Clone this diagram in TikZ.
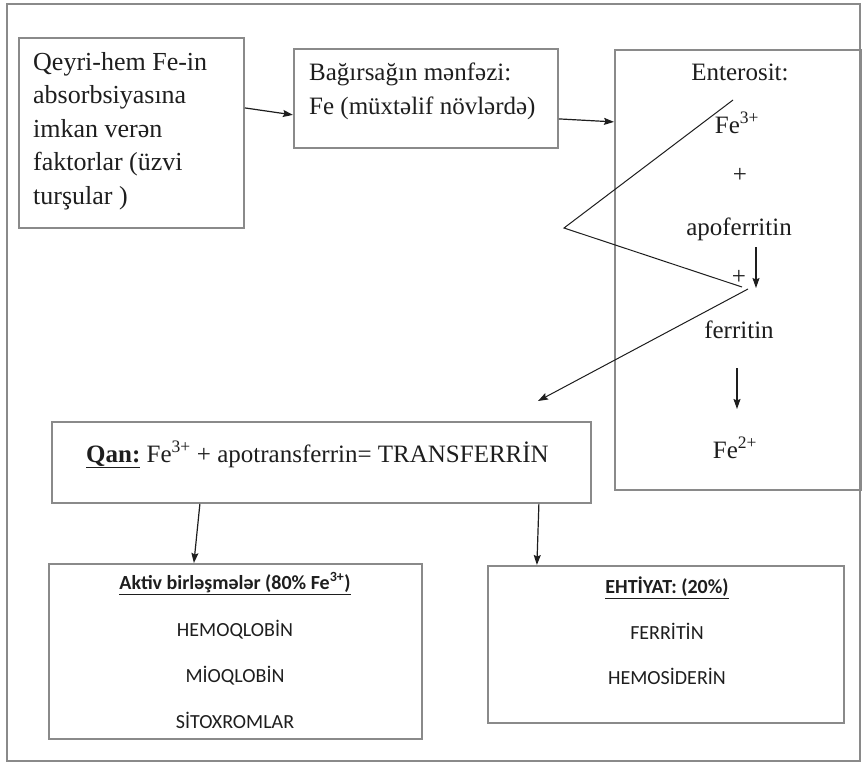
\documentclass[tikz,border=0pt]{standalone}
\usepackage{fontspec}
\setmainfont{Liberation Serif}
\newfontfamily\cali{Carlito}
\usetikzlibrary{arrows.meta,calc}
\definecolor{boxgray}{HTML}{8A8A8A}
\definecolor{inkc}{HTML}{1E1E1E}
\begin{document}
\begin{tikzpicture}[x=1pt,y=-1pt,
  frame/.style={draw=boxgray,line width=1.8pt},
  box/.style={draw=boxgray,line width=1.8pt,rectangle,inner sep=0pt,anchor=north west},
  arr/.style={draw=inkc,line width=1.2pt,-{Stealth[length=10pt,width=7pt,inset=1.5pt]}},
  zig/.style={draw=inkc,line width=1pt},
  serif/.style={font=\fontsize{25}{33.5}\selectfont,inner sep=0pt,text=inkc},
  serifbig/.style={font=\fontsize{26}{33.5}\selectfont,inner sep=0pt,text=inkc},
  cal/.style={font=\cali\fontsize{20}{24}\selectfont,inner sep=0pt,text=inkc},
]
\useasboundingbox (0,0) rectangle (863,772);
\fill[white] (0,0) rectangle (863,772);
\draw[frame] (7,4) rectangle (860,761);

% boxes
\node[box,minimum width=225pt,minimum height=190pt] (b1) at (18,37) {};
\node[box,minimum width=264pt,minimum height=99pt] (b2) at (293,48) {};
\node[box,minimum width=246pt,minimum height=440pt] (b3) at (614,49) {};
\node[box,minimum width=539pt,minimum height=81pt] (qan) at (51,421) {};
\node[box,minimum width=373pt,minimum height=175pt] (ak) at (48,563) {};
\node[box,minimum width=356pt,minimum height=157pt] (eh) at (487,565) {};

% texts
\node[serifbig,align=left,anchor=north west] (t1) at (33,52)
  {Qeyri-hem Fe-in\\absorbsiyasına\\imkan verən\\faktorlar (üzvi\\turşular )};
\node[serif,align=left,anchor=north west] (t2) at (309,63)
  {Bağırsağın mənfəzi:\\Fe (müxtəlif növlərdə)};

\node[serif,anchor=base] (ent) at (740,80) {Enterosit:};
\node[serif,anchor=base] (fe3) at (737,133) {Fe\textsuperscript{3+}};
\node[serif,anchor=base] (p1) at (740,182) {+};
\node[serif,anchor=base] (apo) at (739,235) {apoferritin};
\node[serif,anchor=base] (p2) at (739,284) {+};
\node[serif,anchor=base] (fer) at (739,338) {ferritin};
\node[serif,anchor=base] (fe2) at (735,458) {Fe\textsuperscript{2+}};

\node[serif,anchor=base west] (qt) at (86,462)
  {\underline{\textbf{Qan:}} Fe\textsuperscript{3+} + apotransferrin= TRANSFERRİN};

\node[cal,anchor=base] (akh) at (235,589.5)
  {\underline{\textbf{Aktiv birləşmələr (80\% Fe\textsuperscript{3+})}}};
\node[cal,anchor=base] (hem) at (235,636.5) {HEMOQLOBİN};
\node[cal,anchor=base] (mio) at (235,682.5) {MİOQLOBİN};
\node[cal,anchor=base] (sit) at (235,728.5) {SİTOXROMLAR};

\node[cal,anchor=base] (ehh) at (667,593.5) {\underline{\textbf{EHTİYAT: (20\%)}}};
\node[cal,anchor=base] (ferr) at (667,639.5) {FERRİTİN};
\node[cal,anchor=base] (hsd) at (667,684.5) {HEMOSİDERİN};

% connectors
\draw[arr] ([yshift=25pt]b1.east) -- ([yshift=-16.5pt]b2.west);
\draw[arr] ([yshift=-20.5pt]b2.east) -- ([yshift=148pt]b3.west);

\coordinate (z1) at (733,100);
\coordinate (z2) at (564,228);
\coordinate (z3) at (742,287);
\coordinate (z4) at (748,289);
\coordinate (z5) at (538,401);
\draw[zig] (z1) -- (z2) -- (z3);
\draw[arr,line width=1pt] (z4) -- (z5);

\coordinate (a1) at (756,247);
\coordinate (a2) at (756,288);
\draw[arr] (a1) -- (a2);
\coordinate (c1) at (737,368);
\coordinate (c2) at (737,409);
\draw[arr] (c1) -- (c2);

\draw[arr] ([xshift=-121.5pt]qan.south) -- ([xshift=-41.5pt]ak.north);
\draw[arr] ([xshift=217.5pt]qan.south) -- ([xshift=-129pt]eh.north);
\end{tikzpicture}
\end{document}
